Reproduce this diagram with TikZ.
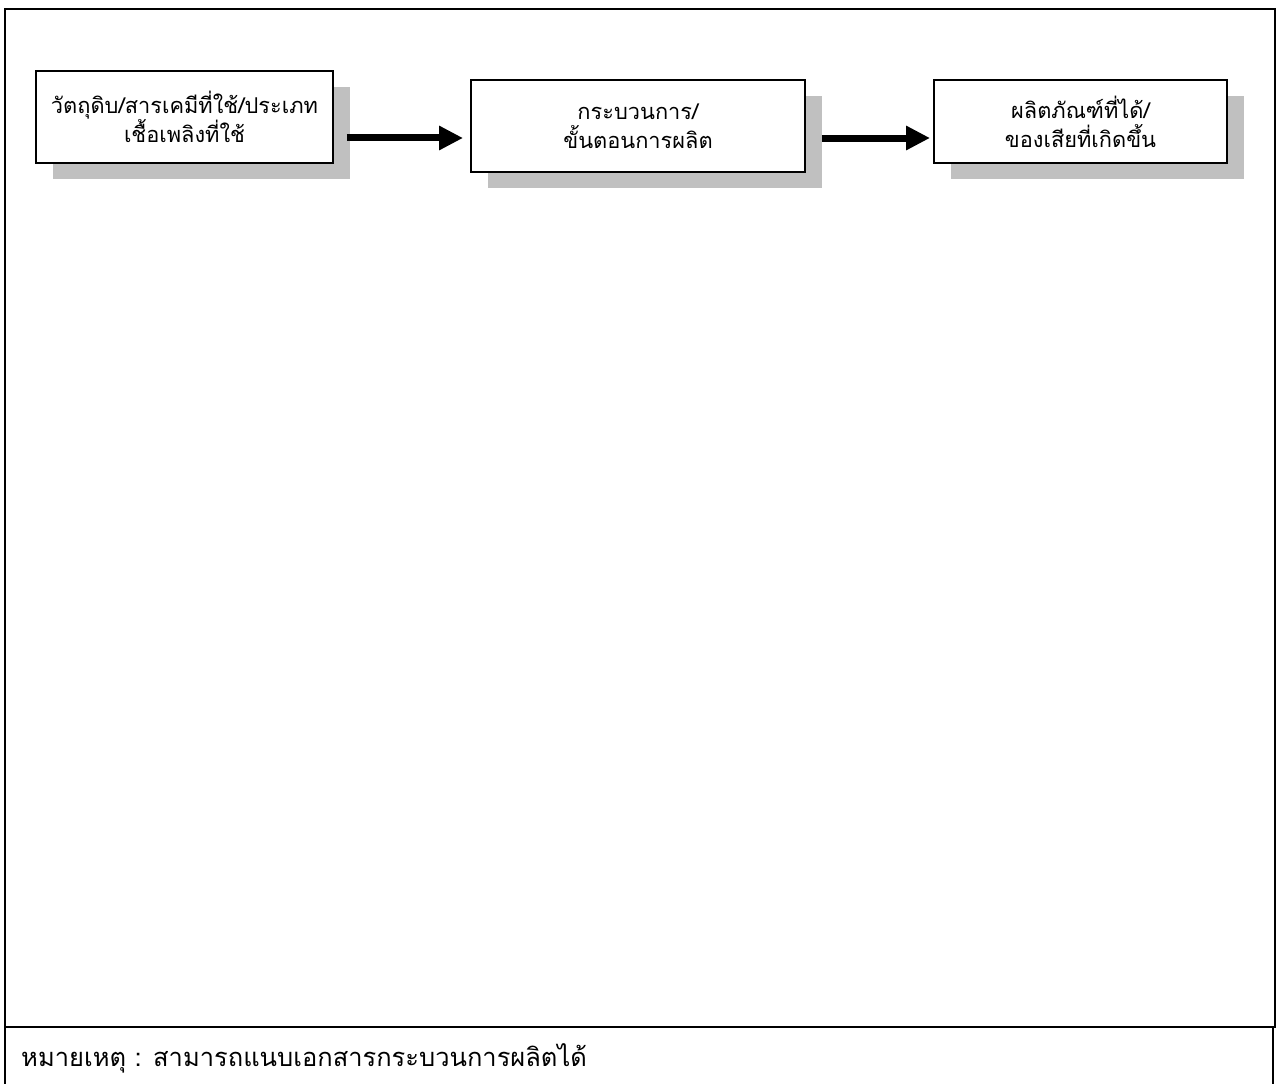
\documentclass[tikz,border=0pt]{standalone}
\usepackage{fontspec}
\newfontfamily\thaifont[Script=Thai]{Loma}
\usetikzlibrary{positioning, arrows.meta, shadows, calc}
\definecolor{inkblack}{HTML}{000000}
\definecolor{shadowgray}{HTML}{C0C0C0}

\begin{document}
\begin{tikzpicture}[
    font=\thaifont\fontsize{12.4pt}{16.5pt}\selectfont,
    box/.style={rectangle, draw=inkblack, line width=1.1pt, fill=white, align=center, inner sep=0pt,
        drop shadow={shadow xshift=0.33cm, shadow yshift=-0.32cm, fill=shadowgray, opacity=1}},
    frame/.style={rectangle, draw=inkblack, line width=1.1pt},
    arrow/.style={-{Triangle[length=0.48cm, width=0.46cm]}, line width=0.14cm, inkblack}
]
\useasboundingbox (0,0) rectangle (25.54,-21.68);

% ==================== OUTER FRAME ====================
\draw[frame] (0.10,-0.18) rectangle (25.50,-20.54);
\draw[frame] (0.10,-20.54) -- (0.10,-21.80);
\draw[frame] (25.46,-20.54) -- (25.46,-21.80);

% ==================== PROCESS BOXES ====================
\node[box, minimum width=5.94cm, minimum height=1.84cm] (raw) at (3.69,-2.34) {วัตถุดิบ/สารเคมีที่ใช้/ประเภท\\เชื้อเพลิงที่ใช้};
\node[box, minimum width=6.68cm, minimum height=1.84cm] (process) at (12.76,-2.52) {กระบวนการ/\\ขั้นตอนการผลิต};
\node[box, minimum width=5.86cm, minimum height=1.66cm] (result) at (21.61,-2.43) {ผลิตภัณฑ์ที่ได้/\\ของเสียที่เกิดขึ้น};

% ==================== ARROWS ====================
\draw[arrow, shorten <=0.26cm, shorten >=0.14cm] ([yshift=-0.42cm]raw.east) -- ([yshift=-0.42cm]raw.east -| process.west);
\draw[arrow, shorten <=0.32cm, shorten >=0.06cm] ([yshift=-0.24cm]process.east) -- ([yshift=-0.24cm]process.east -| result.west);

% ==================== NOTE ====================
\node[anchor=west, font=\thaifont\fontsize{14.5pt}{18pt}\selectfont] (note) at (0.30,-21.16) {หมายเหตุ : สามารถแนบเอกสารกระบวนการผลิตได้};

\end{tikzpicture}
\end{document}
